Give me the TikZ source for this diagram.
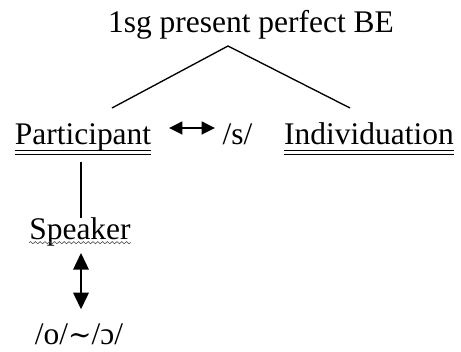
\documentclass[tikz,border=0pt]{standalone}
\usepackage{fontspec}
\setmainfont{Liberation Serif}
\newfontfamily\symfont{DejaVu Serif}
\usetikzlibrary{arrows.meta,decorations.pathmorphing}

\tikzset{
	lbl/.style={inner sep=0pt, anchor=base, font=\fontsize{23.6}{28}\selectfont},
	branch/.style={line width=1pt},
	dline/.style={line width=0.75pt},
	harrow/.style={line width=1.8pt, {Triangle[length=10pt,width=9.5pt]}-{Triangle[length=10pt,width=9.5pt]}},
	varrow/.style={line width=1.8pt, {Triangle[length=12.5pt,width=11.5pt]}-{Triangle[length=12.5pt,width=11.5pt]}},
	squiggle/.style={gray!70!black, line width=0.5pt, decorate, decoration={snake, amplitude=0.8pt, segment length=3.6pt}}
}

\begin{document}
\begin{tikzpicture}[x=0.75pt, y=-0.75pt]
	\useasboundingbox (0,0) rectangle (461,352);
	\node[lbl] (title) at (251,33) {1sg present perfect BE};
	\node[lbl] (part) at (83,145) {Participant};
	\node[lbl] (s) at (237.5,145) {/s/};
	\node[lbl] (indiv) at (369,145) {Individuation};
	\node[lbl] (spk) at (80,240) {Speaker};
	\node[lbl] (vowel) at (79,345) {/o/{\symfont\fontsize{21}{25}\selectfont ∼}/ɔ/};
	\coordinate (apex) at (228,46);
	\coordinate (lft) at (112,108);
	\coordinate (rgt) at (350,108);
	\coordinate (al) at (169,128);
	\coordinate (ar) at (215,128);
	\draw[branch] (lft) -- (apex) -- (rgt);
	\draw[branch, shorten <=7.5pt] (part.south -| 81,0) -- (81,0 |- spk.north);
	\draw[harrow] (al) -- (ar);
	\draw[varrow, shorten <=4.5pt, shorten >=11pt] (spk.south -| 81,0) -- (81,0 |- vowel.north);
	\foreach \n in {part, indiv} {
		\draw[dline] ([yshift=-4.1pt]\n.base west) -- ([yshift=-4.1pt]\n.base east);
		\draw[dline] ([yshift=-6.9pt]\n.base west) -- ([yshift=-6.9pt]\n.base east);
	}
	\draw[squiggle] ([yshift=-2pt]spk.base west) -- ([yshift=-2pt]spk.base east);
\end{tikzpicture}
\end{document}
